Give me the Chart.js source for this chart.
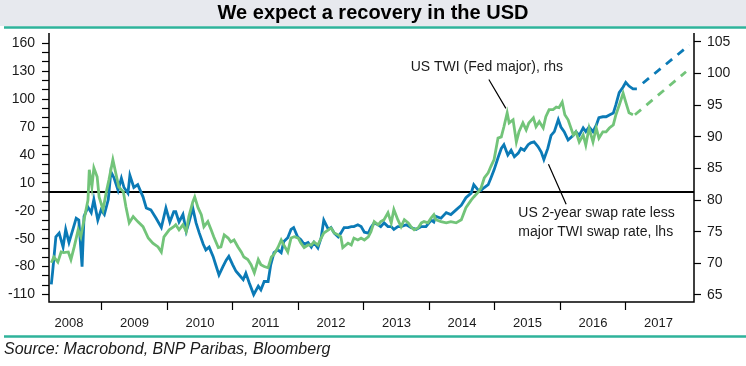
<!DOCTYPE html>
<html>
<head>
<meta charset="utf-8">
<title>We expect a recovery in the USD</title>
<script src="https://cdn.jsdelivr.net/npm/chart.js@4"></script>
<style>
  html, body { margin: 0; padding: 0; background: #fff; }
  #wrap { width: 746px; height: 366px; }
</style>
</head>
<body>
<div id="wrap"><canvas id="usdChart" width="746" height="366"></canvas></div>
<script>
// US 2-year swap rate less major TWI swap rate (bp, lhs)
var swapYears = [
  2008.23, 2008.25, 2008.30, 2008.35, 2008.41, 2008.45, 2008.50, 2008.56, 2008.61, 2008.65,
  2008.70, 2008.73, 2008.79, 2008.84, 2008.88, 2008.94, 2008.99, 2009.04, 2009.10, 2009.14,
  2009.19, 2009.25, 2009.30, 2009.34, 2009.40, 2009.43, 2009.49, 2009.55, 2009.63, 2009.68,
  2009.75, 2009.83, 2009.91, 2009.98, 2010.04, 2010.10,
  2010.13, 2010.18, 2010.24, 2010.29, 2010.33, 2010.39, 2010.44, 2010.49, 2010.55, 2010.59,
  2010.64, 2010.70, 2010.74, 2010.79, 2010.85, 2010.90, 2010.94, 2011.00, 2011.05, 2011.10,
  2011.16, 2011.20, 2011.25, 2011.32, 2011.39, 2011.43, 2011.48, 2011.54, 2011.58, 2011.63,
  2011.69, 2011.74, 2011.78, 2011.84, 2011.89, 2011.93, 2011.99, 2012.04, 2012.09, 2012.15,
  2012.20, 2012.24, 2012.30, 2012.35, 2012.39, 2012.46, 2012.50, 2012.55, 2012.61, 2012.65,
  2012.70, 2012.76, 2012.81, 2012.85, 2012.91, 2012.96, 2013.01, 2013.07, 2013.11, 2013.16,
  2013.22, 2013.26, 2013.31, 2013.37, 2013.42, 2013.46, 2013.52, 2013.57, 2013.65, 2013.72,
  2013.80, 2013.88, 2013.95, 2014.03, 2014.07,
  2014.10, 2014.18, 2014.26, 2014.33, 2014.41, 2014.49, 2014.56, 2014.64, 2014.68, 2014.75,
  2014.79, 2014.84, 2014.90, 2014.94, 2014.99, 2015.05, 2015.10, 2015.14, 2015.20, 2015.25,
  2015.30, 2015.36, 2015.40, 2015.45, 2015.51, 2015.55, 2015.60, 2015.66, 2015.71, 2015.75,
  2015.81, 2015.86, 2015.91, 2015.97, 2016.01, 2016.06, 2016.12,
  2016.20, 2016.24, 2016.29, 2016.35, 2016.39, 2016.44, 2016.50, 2016.55, 2016.59, 2016.65,
  2016.70, 2016.75, 2016.81, 2016.85, 2016.90, 2016.96, 2017.00, 2017.05, 2017.11, 2017.17
]
var swapValues = [
  -99, -86, -48, -44, -59, -40, -54, -40, -28, -30,
  -80, -26, -16, -22, -8, -30, -19, -24, -8, 22,
  15, 2, 15, 5, -1, 18, 5, 8, -5, -17,
  -19, -28, -38, -17, -32, -21,
  -21, -32, -24, -42, -33, -17, -33, -44, -56, -62,
  -59, -69, -78, -89, -80, -73, -69, -78, -85, -89,
  -94, -87, -97, -110, -101, -105, -96, -96, -78, -65,
  -62, -65, -53, -49, -40, -38, -48, -51, -56, -54,
  -59, -54, -60, -49, -30, -40, -38, -44, -48, -44,
  -38, -38, -37, -37, -35, -37, -43, -44, -38, -33,
  -35, -37, -33, -37, -37, -40, -37, -37, -35, -38,
  -40, -37, -37, -30, -32,
  -26, -28, -22, -24, -19, -14, -6, -1, 8, 2,
  2, 5, 8, 15, 24, 37, 47, 51, 40, 45,
  38, 42, 47, 45, 51, 53, 54, 49, 43, 35,
  47, 61, 65, 78, 70, 65, 56,
  61, 65, 61, 69, 65, 70, 65, 72, 80, 81,
  81, 83, 85, 94, 107, 113, 118, 114, 111, 111
]

// US TWI (Fed major), index, rhs
var twiYears = [
  2008.23, 2008.27, 2008.33, 2008.38, 2008.42, 2008.49, 2008.53, 2008.58, 2008.64, 2008.68,
  2008.73, 2008.79, 2008.81, 2008.85, 2008.88, 2008.93, 2008.96, 2009.02, 2009.07, 2009.11,
  2009.17, 2009.22, 2009.26, 2009.33, 2009.37, 2009.42, 2009.48, 2009.55, 2009.63, 2009.71,
  2009.78, 2009.86, 2009.91, 2009.95, 2010.03, 2010.10,
  2010.13, 2010.18, 2010.24, 2010.29, 2010.33, 2010.39, 2010.42, 2010.47, 2010.52, 2010.56,
  2010.62, 2010.67, 2010.71, 2010.78, 2010.82, 2010.87, 2010.93, 2010.97, 2011.02, 2011.08,
  2011.13, 2011.17, 2011.23, 2011.28, 2011.33, 2011.39, 2011.43, 2011.48, 2011.54, 2011.59,
  2011.63, 2011.69, 2011.74, 2011.78, 2011.84, 2011.89, 2011.94, 2012.00, 2012.04, 2012.09,
  2012.15,
  2012.20, 2012.24, 2012.30, 2012.35, 2012.39, 2012.46, 2012.50, 2012.55, 2012.61, 2012.65,
  2012.68, 2012.76, 2012.81, 2012.85, 2012.91, 2012.96, 2013.01, 2013.07, 2013.11, 2013.16,
  2013.22, 2013.26, 2013.31, 2013.37, 2013.42, 2013.46, 2013.52, 2013.57, 2013.62, 2013.68,
  2013.72, 2013.77, 2013.83, 2013.88, 2013.92, 2013.98, 2014.03, 2014.07,
  2014.10, 2014.18, 2014.26, 2014.33, 2014.41, 2014.49, 2014.56, 2014.64, 2014.68, 2014.75,
  2014.79, 2014.84, 2014.90, 2014.94, 2014.99, 2015.05, 2015.10, 2015.14, 2015.19, 2015.22,
  2015.28, 2015.33, 2015.37, 2015.43, 2015.48, 2015.52, 2015.59, 2015.63, 2015.68, 2015.74,
  2015.78, 2015.83, 2015.89, 2015.94, 2015.98, 2016.03, 2016.07, 2016.12,
  2016.20, 2016.24, 2016.29, 2016.35, 2016.39, 2016.44, 2016.50, 2016.55, 2016.59, 2016.65,
  2016.70, 2016.75, 2016.81, 2016.85, 2016.90, 2016.96, 2017.00, 2017.05, 2017.11
]
var twiValues = [
  70.1, 71.0, 70.2, 71.8, 71.7, 71.8, 70.6, 72.6, 75.3, 74.2,
  76.9, 80.0, 84.8, 82.1, 85.1, 83.7, 80.5, 78.5, 81.3, 83.2,
  86.4, 84.0, 82.1, 81.3, 78.9, 76.4, 77.4, 76.6, 75.8, 74.0,
  73.2, 72.6, 71.8, 74.2, 75.3, 75.8,
  76.1, 75.3, 76.1, 75.0, 77.4, 79.7, 80.5, 78.8, 77.7, 75.8,
  76.6, 75.3, 74.2, 72.5, 72.6, 74.5, 74.0, 73.4, 73.7, 72.6,
  71.8, 71.0, 70.6, 69.8, 68.5, 70.6, 69.8, 69.5, 69.3, 71.0,
  71.4, 72.5, 73.7, 72.9, 71.8, 74.0, 74.2, 74.0, 73.2, 72.5,
  72.9,
  72.9, 73.4, 72.9, 74.0, 74.8, 75.3, 75.6, 74.8, 74.5, 74.2,
  72.5, 73.2, 72.9, 74.0, 73.7, 74.0, 73.7, 74.2, 75.0, 76.6,
  76.1, 76.6, 76.9, 78.0, 76.4, 78.5, 76.9, 75.8, 76.9, 76.4,
  75.8, 75.3, 75.6, 76.4, 76.6, 76.4, 77.2, 77.7,
  76.9, 76.6, 76.4, 76.6, 76.4, 76.9, 78.8, 80.0, 80.5, 81.3,
  81.9, 83.5, 84.3, 85.3, 86.4, 89.8, 90.0, 91.6, 93.8, 92.2,
  92.7, 89.2, 90.8, 92.2, 91.1, 92.2, 93.0, 91.6, 92.4, 91.4,
  93.2, 94.3, 94.3, 94.7, 94.6, 95.5, 93.5, 92.7,
  90.3, 90.8, 89.2, 90.3, 88.7, 91.4, 89.2, 91.4, 89.8, 90.8,
  90.8, 91.4, 91.9, 93.5, 95.0, 96.9, 95.5, 93.8, 93.5
]

// forecasts (dashed)
var swapForecastYears = [2017.26, 2017.97]
var swapForecastValues = [117, 158]
var twiForecastYears = [2017.14, 2017.92]
var twiForecastValues = [93.5, 100.3]

// axes
var yearLabels = ['2008', '2009', '2010', '2011', '2012', '2013', '2014', '2015', '2016', '2017']
var yearMids = [2008.5, 2009.5, 2010.5, 2011.5, 2012.5, 2013.5, 2014.5, 2015.5, 2016.5, 2017.5]
var yearStarts = [2009, 2010, 2011, 2012, 2013, 2014, 2015, 2016, 2017]
var leftTicks = [-110, -100, -90, -80, -70, -60, -50, -40, -30, -20, -10, 0, 10, 20, 30, 40, 50, 60, 70, 80, 90, 100, 110, 120, 130, 140, 150, 160]
var leftLabels = [160, 130, 100, 70, 40, 10, -20, -50, -80, -110]
var rightTicks = [65, 70, 75, 80, 85, 90, 95, 100, 105]

;(function (window, document, Chart) {
  var BLUE = '#0b7ab6'
  var GREEN = '#72c479'
  var TEAL = '#2fb39b'
  var FONT = '"Liberation Sans", Arial, sans-serif'

  Chart.defaults.font.family = FONT
  Chart.defaults.color = '#1a1a1a'

  function points (xs, ys) {
    var out = []
    for (var i = 0; i < xs.length; i++) out.push({ x: xs[i], y: ys[i] })
    return out
  }

  function setTicks (values) {
    return function (scale) {
      scale.ticks = values.map(function (v) { return { value: v } })
    }
  }

  // title band, source line, open-top frame and the two call-outs
  var decor = {
    id: 'decor',
    beforeDraw: function (chart) {
      var c = chart.ctx
      c.save()
      c.fillStyle = '#fff'
      c.fillRect(0, 0, chart.width, chart.height)
      c.fillStyle = '#e7e9ee'
      c.fillRect(0, 0, chart.width, 26)
      c.strokeStyle = TEAL
      c.lineWidth = 2.5
      c.beginPath()
      c.moveTo(4, 27.5); c.lineTo(chart.width, 27.5)
      c.moveTo(4, 336.5); c.lineTo(chart.width, 336.5)
      c.stroke()
      c.fillStyle = '#000'
      c.font = 'bold 20px ' + FONT
      c.textAlign = 'center'
      c.textBaseline = 'middle'
      c.fillText('We expect a recovery in the USD', 373, 13)
      c.font = 'italic 16px ' + FONT
      c.textAlign = 'left'
      c.fillStyle = '#1a1a1a'
      c.fillText('Source: Macrobond, BNP Paribas, Bloomberg', 4, 350)
      c.restore()
    },
    afterDatasetsDraw: function (chart) {
      var c = chart.ctx
      var a = chart.chartArea
      var sx = chart.scales.x
      var sy = chart.scales.y
      function px (yr) { return sx.getPixelForValue(yr) }
      function py (v) { return sy.getPixelForValue(v) }
      c.save()
      c.strokeStyle = '#000'
      c.lineWidth = 1.5
      c.beginPath()
      c.moveTo(a.left, a.top); c.lineTo(a.left, a.bottom)
      c.lineTo(a.right, a.bottom); c.lineTo(a.right, a.top)
      c.stroke()

      c.lineWidth = 1.2
      c.beginPath()
      c.moveTo(px(2014.91), py(121)); c.lineTo(px(2015.17), py(90))
      c.moveTo(px(2015.82), py(30)); c.lineTo(px(2016.09), py(-13))
      c.stroke()

      c.fillStyle = '#1a1a1a'
      c.font = '14px ' + FONT
      c.textBaseline = 'middle'
      c.textAlign = 'center'
      c.fillText('US TWI (Fed major), rhs', px(2014.88), py(134))
      c.textAlign = 'left'
      c.fillText('US 2-year swap rate less', px(2015.36), py(-22))
      c.fillText('major TWI swap rate, lhs', px(2015.36), py(-43))
      c.restore()
    }
  }

  var ctx = document.getElementById('usdChart').getContext('2d')
  var lineBase = { pointRadius: 0, borderWidth: 2.8, tension: 0, fill: false }

  new Chart(ctx, {
    type: 'line',
    data: {
      datasets: [
        Object.assign({ label: 'US TWI (Fed major), rhs', data: points(twiYears, twiValues), borderColor: GREEN, yAxisID: 'y2' }, lineBase),
        Object.assign({ label: 'US TWI forecast', data: points(twiForecastYears, twiForecastValues), borderColor: GREEN, borderDash: [8, 7], yAxisID: 'y2' }, lineBase),
        Object.assign({ label: 'US 2-year swap rate less major TWI swap rate, lhs', data: points(swapYears, swapValues), borderColor: BLUE, yAxisID: 'y' }, lineBase),
        Object.assign({ label: 'Swap spread forecast', data: points(swapForecastYears, swapForecastValues), borderColor: BLUE, borderDash: [8, 7], yAxisID: 'y' }, lineBase)
      ]
    },
    options: {
      responsive: false,
      animation: false,
      devicePixelRatio: 1,
      layout: { padding: { top: 33, left: 0, right: 0, bottom: 0 } },
      plugins: { legend: { display: false }, tooltip: { enabled: false }, title: { display: false } },
      events: [],
      scales: {
        x: {
          type: 'linear', position: 'bottom', min: 2008.195, max: 2018.042,
          afterBuildTicks: setTicks(yearStarts),
          ticks: { callback: function () { return '' }, autoSkip: false, maxRotation: 0 },
          grid: { drawOnChartArea: false, tickLength: 8, tickColor: '#000', tickWidth: 1.2 },
          border: { display: false },
          afterFit: function (s) { s.height = 9 }
        },
        x2: {
          type: 'linear', position: 'bottom', min: 2008.195, max: 2018.042,
          afterBuildTicks: setTicks(yearMids),
          ticks: {
            autoSkip: false, maxRotation: 0, padding: 5,
            font: { size: 13 },
            callback: function (v, i) { return yearLabels[i] }
          },
          grid: { display: false, drawTicks: false },
          border: { display: false },
          afterFit: function (s) { s.height = 55 }
        },
        y: {
          position: 'left', min: -118, max: 171,
          afterBuildTicks: setTicks(leftTicks),
          ticks: {
            autoSkip: false, padding: 7,
            font: { size: 14 },
            callback: function (v) { return leftLabels.indexOf(v) >= 0 ? String(v) : '' }
          },
          grid: {
            color: function (c) { return c.tick && c.tick.value === 0 ? '#000' : 'rgba(0,0,0,0)' },
            lineWidth: function (c) { return c.tick && c.tick.value === 0 ? 2 : 1 },
            tickColor: '#000', tickLength: 7, tickWidth: 1.2
          },
          border: { display: false },
          afterFit: function (s) { s.width = 49 }
        },
        y2: {
          position: 'right', min: 63.89, max: 106.42,
          afterBuildTicks: setTicks(rightTicks),
          ticks: { autoSkip: false, padding: 6, font: { size: 14 } },
          grid: { drawOnChartArea: false, tickColor: '#000', tickLength: 7, tickWidth: 1.2 },
          border: { display: false },
          afterFit: function (s) { s.width = 52 }
        }
      }
    },
    plugins: [decor]
  })
})(window, document, Chart);
</script>
</body>
</html>
